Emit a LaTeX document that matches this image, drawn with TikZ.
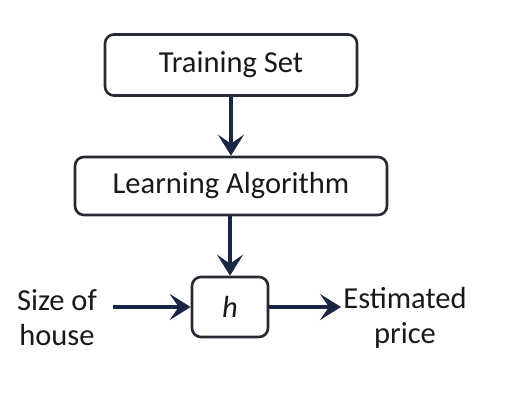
\documentclass[tikz,border=0pt]{standalone}
\usepackage{fontspec}
\setmainfont{Carlito}
\usetikzlibrary{arrows.meta}
\definecolor{navy}{HTML}{1B2642}
\definecolor{boxline}{HTML}{262A33}
\begin{document}
\begin{tikzpicture}[x=1pt,y=-1pt,
  box/.style={draw=boxline,line width=2.6pt,rounded corners=9pt,inner sep=0pt,fill=white,font=\fontsize{30.5}{35}\selectfont,text=black!90},
  lbl/.style={font=\fontsize{30.5}{35}\selectfont,align=center,inner sep=0pt,text=black!90},
  arr/.style={draw=navy,line width=4.5pt,-{Stealth[length=21pt,width=26pt,inset=9pt]}}]
\useasboundingbox (0,0) rectangle (531,401);
\node[box,minimum width=252pt,minimum height=61pt] (ts) at (231,65) {Training Set};
\node[box,minimum width=312pt,minimum height=58pt] (la) at (231,186) {Learning Algorithm};
\node[box,minimum width=76pt,minimum height=60pt] (h) at (230,307) {\itshape h};
\node[lbl] (in) at (57,318) {Size of\\house};
\node[lbl] (out) at (405,318) {Estimated\\price};
\coordinate (inS) at (113,307);
\coordinate (outE) at (341,307);
\draw[arr] (ts.south) -- (la.north);
\draw[arr] (la.south -| h.north) -- (h.north);
\draw[arr] (inS) -- (h.west);
\draw[arr] (h.east) -- (outE);
\end{tikzpicture}
\end{document}
